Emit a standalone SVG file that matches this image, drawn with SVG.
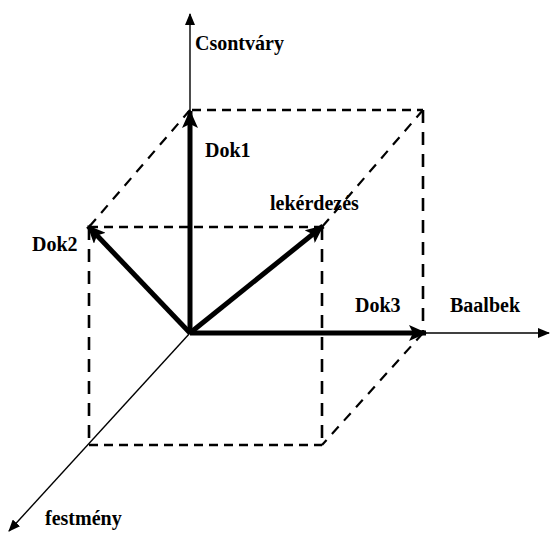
<svg xmlns="http://www.w3.org/2000/svg" width="551" height="533" viewBox="0 0 551 533">
<style>
.axis{stroke:#000;stroke-width:1.4;fill:none}
.vec{stroke:#000;stroke-width:5;fill:none}
.dh{stroke:#000;stroke-width:2.6;fill:none;stroke-dasharray:9 6}
.dv{stroke:#000;stroke-width:2.6;fill:none;stroke-dasharray:13 9}
.dd{stroke:#000;stroke-width:2.2;fill:none;stroke-dasharray:10 8}
text{font-family:"Liberation Serif","Times New Roman",serif;font-weight:bold;font-size:20px;fill:#000}
</style>
<defs>
<marker id="ah" markerUnits="userSpaceOnUse" markerWidth="12" markerHeight="10" refX="11" refY="5" orient="auto">
<path d="M0,0 L12,5 L0,10 Z" fill="#000"/>
</marker>
<marker id="av" markerUnits="userSpaceOnUse" markerWidth="18" markerHeight="16" refX="17" refY="8" orient="auto">
<path d="M0,0 L18,8 L0,16 L4,8 Z" fill="#000"/>
</marker>
</defs>
<rect width="551" height="533" fill="#fff"/>
<g id="connectors">
<g id="cube">
<line class="dh" x1="192" y1="110" x2="423" y2="110"/>
<line class="dv" x1="423" y1="110" x2="423" y2="333"/>
<line class="dh" x1="89" y1="227" x2="322" y2="227"/>
<line class="dv" x1="89" y1="227" x2="89" y2="445"/>
<line class="dv" x1="322" y1="227" x2="322" y2="445"/>
<line class="dh" x1="89" y1="445" x2="322" y2="445"/>
<line class="dd" x1="190" y1="110" x2="89" y2="227"/>
<line class="dd" x1="423" y1="110" x2="322" y2="227"/>
<line class="dd" x1="423" y1="333" x2="322" y2="445"/>
</g>
<g id="axes">
<line class="axis" x1="190" y1="333" x2="190" y2="14" marker-end="url(#ah)"/>
<line class="axis" x1="190" y1="333" x2="549" y2="333" marker-end="url(#ah)"/>
<line class="axis" x1="190" y1="333" x2="9" y2="531" marker-end="url(#ah)"/>
</g>
<g id="vectors">
<line class="vec" x1="190" y1="333" x2="190" y2="111" marker-end="url(#av)"/>
<line class="vec" x1="190" y1="333" x2="88" y2="226" marker-end="url(#av)"/>
<line class="vec" x1="190" y1="333" x2="323" y2="226" marker-end="url(#av)"/>
<line class="vec" x1="190" y1="333" x2="426" y2="333" marker-end="url(#av)"/>
</g>
</g>
<g id="csontvary"><text x="195" y="50">Csontváry</text></g>
<g id="baalbek"><text x="450" y="312">Baalbek</text></g>
<g id="festmeny"><text x="45" y="525">festmény</text></g>
<g id="dok1"><text x="205" y="157">Dok1</text></g>
<g id="dok2"><text x="32" y="251">Dok2</text></g>
<g id="dok3"><text x="355" y="312">Dok3</text></g>
<g id="lekerdezes"><text x="270" y="210">lekérdezés</text></g>
</svg>
